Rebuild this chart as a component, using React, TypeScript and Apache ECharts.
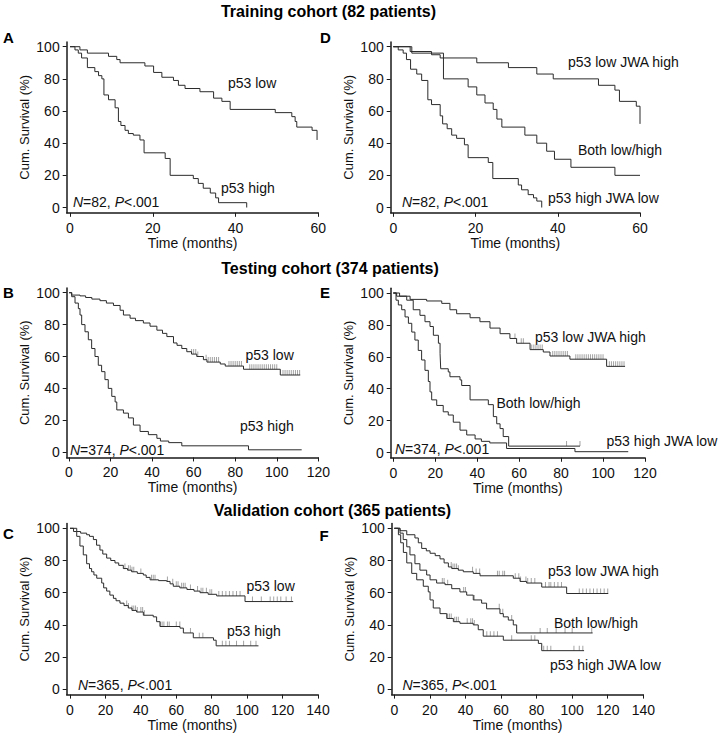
import React, { useEffect, useRef } from "react";
import * as echarts from "echarts";

const FONT = '"Liberation Sans", Arial, Helvetica, sans-serif';

// ---------- tick labels ----------
const yTicks = [0, 20, 40, 60, 80, 100];
const xTicks60 = [0, 20, 40, 60];
const xTicks120 = [0, 20, 40, 60, 80, 100, 120];
const xTicks140 = [0, 20, 40, 60, 80, 100, 120, 140];

// ---------- texts ----------
const cohortTitles = [
  "Training cohort (82 patients)",
  "Testing cohort (374 patients)",
  "Validation cohort (365 patients)",
];
const panelLetters = ["A", "D", "B", "E", "C", "F"];
const sampleSizes = ["82", "82", "374", "374", "365", "365"];
const xName = "Time (months)";
const yName = "Cum. Survival (%)";

// ---------- survival curves: [months, cumulative survival %] ----------
const aLow = [[0,100],[2.4,98],[4.2,96],[9.3,94],[11.3,92],[12.1,90],[18.1,88],[20.2,84],[22.2,81],[25,79],[26.2,76],[27.8,74],[31.4,72],[34.7,68],[36.7,66],[38.7,61],[49.6,59],[53.6,56.5],[54.4,53.5],[54.8,50],[58.5,48],[59.7,42]];
const aHigh = [[0,100],[1.2,98],[2.0,96],[2.8,93],[4.2,87],[6.0,84.5],[6.9,82],[7.7,80],[8.2,70],[9.3,67],[10.9,62],[11.7,53.5],[12.3,51],[13.3,48],[14.1,46],[15.3,45],[16.9,42],[17.9,34],[23,30.5],[24.2,20],[29.8,18],[31,15],[32.2,12],[33.9,9],[35.2,6],[35.9,3],[42.7,0]];

const dLowHigh = [[0,100],[4.1,97],[9.3,95],[11.4,93],[20.3,90],[28,87],[34.9,83],[38.9,80],[49.9,76],[53.9,73],[55,66],[59.1,63],[60,52]];
const dBoth = [[0,100],[4.5,96],[12.2,80],[18.2,75],[20.3,70],[22.3,65],[24.3,61],[25.2,55],[26.4,50],[32,45],[34.9,40],[37.3,35],[39.2,30],[43.2,25],[53.9,20],[60,20]];
const dHighLow = [[0,100],[1.2,98],[2.4,96],[3.2,92],[4.2,86],[5.7,83],[6.9,79],[8.4,67],[9.3,64],[11.4,57],[12,52],[13.1,49],[14.2,45],[15.4,43],[17.3,39],[18.2,31],[23.1,28],[24.2,18],[30.4,14],[31.2,11],[32.8,8],[34.1,6],[34.9,4],[36.1,0]];

const bLow = [[0,100],[1.3,98.5],[5.3,98],[8,97],[11,96],[14.9,95],[18,93.5],[21.4,92],[24.6,89],[26.2,86],[29.4,84],[32,82.5],[35.8,81],[39,79],[42.3,76.5],[45,74.5],[47.1,72.5],[50.3,68.5],[52,67],[54.3,65],[56.7,63],[59,61.5],[61.5,60],[64.7,58],[66.4,56.5],[72.8,55.3],[75.2,54],[84,52],[101.7,48.4],[111.3,48.4]];
const bHigh = [[0,100],[1.3,97.5],[2.9,93.5],[4.5,90],[5.3,86],[6.1,80],[7.7,75.5],[9.3,70.5],[10.9,65],[12.5,60],[14.1,54.5],[15.7,50.5],[17.3,45.5],[18.9,40],[20.6,35],[22.2,31.5],[23,26.5],[26.2,24.5],[28.6,21.5],[31,17],[34.2,13],[38.2,11],[42.3,8.7],[44,7],[48,6],[54.3,4],[86.4,1.5],[112,1.5]];

const eLowHigh = [[0,100],[1.6,98],[8,96],[15.9,95],[23.1,93.5],[27,89.5],[30.2,87],[36.6,84.5],[41.3,82],[46.1,78],[50.9,74.5],[55.6,71.5],[58.8,68.5],[65.2,64.5],[71.5,63],[74.7,60.5],[84.2,58.5],[101.7,54],[110.5,54]];
const eBoth = [[0,100],[3,98],[6.4,95.5],[9.5,89.5],[12.7,86],[15.1,82],[17.5,79],[19.1,73.5],[21.5,68.5],[22.3,62],[22.6,52.5],[26.2,50.5],[27,47.5],[31.8,45.5],[32.6,42],[36.6,33],[45.3,30],[47.7,22.5],[49.3,18],[50.9,15],[52.4,10],[55,4],[89,4]];
const eHighLow = [[0,100],[1.3,95.5],[2.4,92.5],[4,89.5],[5.6,85],[7.2,81],[8.8,75.5],[10.3,70.5],[11.9,64],[13.5,58],[15.1,51.5],[16.7,44.5],[17.5,38],[18.3,33],[20.7,29.5],[23.8,25.5],[26.2,23.5],[28.6,19],[31.8,14],[35,11],[39,8.5],[42,7],[46,6],[54,2.5],[86.6,0.5],[112,0.5]];

const cLow = [[0,100],[3.8,98],[6,97],[9.4,96],[11,95],[13.2,93],[15,89.5],[16.9,86.5],[18.5,84],[20.7,81.5],[23,80],[25.4,78.5],[27.5,77],[30.1,75],[32.5,74],[34.8,73],[38,72],[41.4,71],[43,69.5],[45.2,68],[50,67.5],[54.6,67],[56.5,65.5],[58.3,64],[62,63],[66,62],[70,61],[73.4,60],[78,59],[82.8,58],[98.8,54.5],[126,54.5]];
const cHigh = [[0,100],[2,98],[3.8,95],[5.6,89],[7.5,83.5],[9.4,78],[11,75],[12.2,73],[13.5,71],[15.1,69],[17.9,66],[19,63],[20.7,61],[22.5,58.5],[24.5,56.5],[26,55],[28.2,53.5],[30.5,52],[32.9,50.5],[35,49],[37.6,48],[41.4,46],[47,45],[48.9,42],[50.8,39],[62.1,38],[64,35],[69.6,32],[81,30.5],[82.5,27],[106.4,27]];

const fLowHigh = [[0,100],[3.2,98.5],[7,96],[11.6,94],[13.5,91],[15.4,87.5],[18,86],[20.1,84.5],[23,83],[25.7,81],[28,78.5],[30.4,76],[32.3,75],[36,74],[38.8,73],[44.4,72],[48.2,70.5],[66.9,69],[70.7,67],[74.4,66],[82.9,63.5],[96.9,59.5],[120.3,59.5]];
const fBoth = [[0,100],[3.2,97],[5,93],[7,88.5],[8.8,83.5],[11.6,78],[14.4,74],[18.2,71],[20.1,68],[23.8,66],[28.5,65],[32.3,62.5],[36.9,60.5],[40.7,58.5],[44.4,55.5],[49.1,53.5],[51.9,50],[59.4,47],[61.3,45],[64.1,43],[66.9,40],[68.8,35],[111.5,35]];
const fHighLow = [[0,100],[2.3,96],[3.6,91],[5.1,85],[7,78.5],[9.8,72],[12.6,68],[16.3,64],[19.1,60.5],[20.1,55.5],[21.9,50.5],[25.7,47],[29.5,44],[33.2,42],[36.9,41],[44.4,40],[47.2,37],[50,33],[61.3,30.5],[81,28.5],[82.9,24],[106.7,24]];

// ---------- censored times (months) ----------
const bLowCens = [59,60,61,62,66,67,68,69,70,71,72,77,78,79,80,81,82,83,87,88,89,90,91,92,93,94,95,96,97,98,99,100,103,104,105,106,107,108,109,110,111];
const eLowHighCens = [58,61,62,66,67,68,69,70,71,76,77,78,79,80,81,82,83,87,88,89,90,91,92,93,94,95,96,97,98,99,100,103,104,105,106,107,108,109,110];
const eBothCens = [82.6, 89];
const cLowCens = [31,33,34,35,36,40,46,47,48,55,58,60,61,63,64,65,68,72,74,75,77,79,80,84,86,88,90,92,94,96,103,108,113,115,117,119,122,125];
const cHighCens = [32,33,35,36,37,38,40,41,42,51,52,53,55,56,60,62,68,73,75,86,88,90,94,98,102,105];
const fLowHighCens = [32,33,34,35,36,44,46,48,58,59,61,62,68,70,71,74,75,77,79,85,87,88,90,92,94,104,106,108,110,112,114,116,118,120];
const fBothCens = [27,28,30,39,40,45,59,61,66,82,86,91,96,100,111];
const fHighLowCens = [30,31,32,34,35,36,41,43,44,45,52,54,56,58,66,77,79,84,86,88,101,104,106];

// ---------- layout (pixels) ----------
const layouts = [
  { x0: 70, xEndPx: 318.3, xMax: 60, xMin: -0.8, y0: 207.5, y100: 46.7, ticks: xTicks60 },
  { x0: 393.3, xEndPx: 640, xMax: 60, xMin: -0.63, y0: 207.5, y100: 46.7, ticks: xTicks60 },
  { x0: 69, xEndPx: 318.3, xMax: 120, xMin: -1.1, y0: 452.2, y100: 292.7, ticks: xTicks120 },
  { x0: 393.3, xEndPx: 645, xMax: 120, xMin: -1.24, y0: 452.5, y100: 293, ticks: xTicks120 },
  { x0: 70, xEndPx: 318, xMax: 140, xMin: -1.86, y0: 689.3, y100: 528.3, ticks: xTicks140 },
  { x0: 394.3, xEndPx: 643.3, xMax: 140, xMin: -1.46, y0: 689.3, y100: 528.3, ticks: xTicks140 },
];
const Y_MIN = -3.3;
const Y_MAX = 103;

const panelCurves = [
  [{ d: aLow, c: [] as number[] }, { d: aHigh, c: [] as number[] }],
  [{ d: dLowHigh, c: [] as number[] }, { d: dBoth, c: [] as number[] }, { d: dHighLow, c: [] as number[] }],
  [{ d: bLow, c: bLowCens }, { d: bHigh, c: [] as number[] }],
  [{ d: eLowHigh, c: eLowHighCens }, { d: eBoth, c: eBothCens }, { d: eHighLow, c: [] as number[] }],
  [{ d: cLow, c: cLowCens }, { d: cHigh, c: cHighCens }],
  [{ d: fLowHigh, c: fLowHighCens }, { d: fBoth, c: fBothCens }, { d: fHighLow, c: fHighLowCens }],
];

// curve label texts with pixel positions
const curveLabels = [
  { t: "p53 low", x: 228, y: 83 },
  { t: "p53 high", x: 221, y: 188 },
  { t: "p53 low JWA high", x: 568, y: 62 },
  { t: "Both low/high", x: 578, y: 149.5 },
  { t: "p53 high JWA low", x: 548, y: 198 },
  { t: "p53 low", x: 245.5, y: 354.5 },
  { t: "p53 high", x: 240, y: 426 },
  { t: "p53 low JWA high", x: 535, y: 336.5 },
  { t: "Both low/high", x: 496.5, y: 403 },
  { t: "p53 high JWA low", x: 606.5, y: 441 },
  { t: "p53 low", x: 246.5, y: 586 },
  { t: "p53 high", x: 227, y: 631 },
  { t: "p53 low JWA high", x: 548, y: 571 },
  { t: "Both low/high", x: 554, y: 623 },
  { t: "p53 high JWA low", x: 550, y: 665 },
];
const statPos = [
  { x: 73, y: 201.5 }, { x: 402, y: 202 },
  { x: 70, y: 450 }, { x: 395, y: 449 },
  { x: 78, y: 685 }, { x: 402.5, y: 685 },
];
const letterPos = [
  { x: 3, y: 37 }, { x: 320, y: 37 },
  { x: 3, y: 292.5 }, { x: 320, y: 292.5 },
  { x: 3, y: 533.5 }, { x: 319.5, y: 535 },
];
const titlePos = [{ x: 328.5, y: 11 }, { x: 330, y: 268 }, { x: 332.5, y: 510 }];

function valueAt(curve: number[][], t: number): number {
  let v = curve[0][1];
  for (const p of curve) {
    if (p[0] <= t) v = p[1];
    else break;
  }
  return v;
}

function buildOption() {
  const grid: any[] = [];
  const xAxis: any[] = [];
  const yAxis: any[] = [];
  const series: any[] = [];
  const axisColor = "#1a1a1a";
  layouts.forEach((L, i) => {
    const sx = (L.xEndPx - L.x0) / L.xMax;
    const sy = (L.y0 - L.y100) / 100;
    grid.push({
      left: L.x0 + L.xMin * sx,
      width: (L.xMax - L.xMin) * sx,
      top: L.y100 - (Y_MAX - 100) * sy,
      height: (Y_MAX - Y_MIN) * sy,
      containLabel: false,
    });
    xAxis.push({
      type: "value",
      gridIndex: i,
      min: L.xMin,
      max: L.xMax,
      name: xName,
      nameLocation: "middle",
      nameGap: 23,
      nameTextStyle: { fontFamily: FONT, fontSize: 14, color: "#111" },
      axisLine: { show: true, onZero: false, lineStyle: { color: axisColor, width: 1.5 } },
      axisTick: { show: true, customValues: L.ticks, length: 4, lineStyle: { color: axisColor, width: 1 } },
      axisLabel: { customValues: L.ticks, margin: 8, fontFamily: FONT, fontSize: 14, color: "#111" },
      splitLine: { show: false },
    });
    yAxis.push({
      type: "value",
      gridIndex: i,
      min: Y_MIN,
      max: Y_MAX,
      name: yName,
      nameLocation: "middle",
      nameGap: 36,
      nameTextStyle: { fontFamily: FONT, fontSize: 13, color: "#111" },
      axisLine: { show: true, onZero: false, lineStyle: { color: axisColor, width: 1.5 } },
      axisTick: { show: true, customValues: yTicks, length: 4, lineStyle: { color: axisColor, width: 1 } },
      axisLabel: { customValues: yTicks, margin: 7, fontFamily: FONT, fontSize: 14, color: "#111" },
      splitLine: { show: false },
    });
    panelCurves[i].forEach((cv) => {
      series.push({
        type: "line",
        xAxisIndex: i,
        yAxisIndex: i,
        step: "end",
        data: cv.d,
        symbol: "none",
        showSymbol: false,
        silent: true,
        lineStyle: { color: "#2b2b2b", width: 1 },
        z: 3,
      });
      if (cv.c.length) {
        series.push({
          type: "scatter",
          xAxisIndex: i,
          yAxisIndex: i,
          data: cv.c.map((t) => [t, valueAt(cv.d, t)]),
          symbol: "rect",
          symbolSize: [1, 5],
          symbolOffset: [0, -2.5],
          silent: true,
          itemStyle: { color: "#8c8c8c" },
          z: 2,
        });
      }
    });
  });

  const graphic: any[] = [];
  cohortTitles.forEach((t, i) => {
    graphic.push({
      type: "text",
      x: titlePos[i].x,
      y: titlePos[i].y,
      style: { text: t, fontFamily: FONT, fontSize: 16, fontWeight: "bold", fill: "#000", align: "center", verticalAlign: "middle" },
    });
  });
  panelLetters.forEach((t, i) => {
    graphic.push({
      type: "text",
      x: letterPos[i].x,
      y: letterPos[i].y,
      style: { text: t, fontFamily: FONT, fontSize: 15, fontWeight: "bold", fill: "#000", align: "left", verticalAlign: "middle" },
    });
  });
  curveLabels.forEach((c) => {
    graphic.push({
      type: "text",
      x: c.x,
      y: c.y,
      style: { text: c.t, fontFamily: FONT, fontSize: 14, fill: "#111", align: "left", verticalAlign: "middle" },
    });
  });
  sampleSizes.forEach((n, i) => {
    graphic.push({
      type: "text",
      x: statPos[i].x,
      y: statPos[i].y,
      style: {
        text: "{i|N}=" + n + ", {i|P}<.001",
        fontFamily: FONT,
        fontSize: 14,
        fill: "#111",
        align: "left",
        verticalAlign: "middle",
        rich: { i: { fontStyle: "italic", fontFamily: FONT, fontSize: 14, fill: "#111" } },
      },
    });
  });

  return {
    animation: false,
    backgroundColor: "#ffffff",
    grid,
    xAxis,
    yAxis,
    series,
    graphic,
  };
}

export default function App() {
  const ref = useRef<HTMLDivElement>(null);
  useEffect(() => {
    document.body.style.margin = "0";
    const chart = echarts.init(ref.current as HTMLDivElement, null, { renderer: "svg" });
    chart.setOption(buildOption() as any);
    return () => chart.dispose();
  }, []);
  return (
    <div
      ref={ref}
      style={{ position: "absolute", left: 0, top: 0, width: 720, height: 736, background: "#fff" }}
    />
  );
}
